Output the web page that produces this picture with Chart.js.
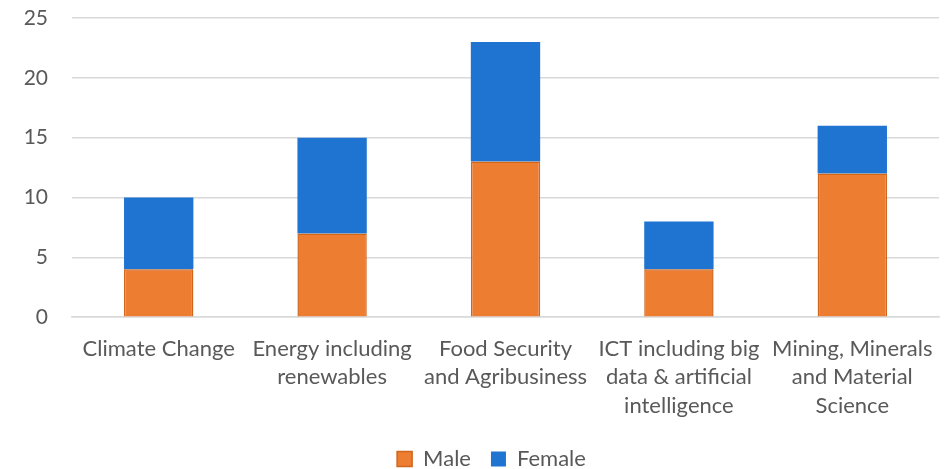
<!DOCTYPE html>
<html>
<head>
<meta charset="utf-8">
<script src="https://cdn.jsdelivr.net/npm/chart.js@4"></script>
<style>
  html, body { margin: 0; padding: 0; background: #fff; }
  #wrap { width: 950px; height: 469px; }
</style>
</head>
<body>
<div id="wrap"><canvas id="myChart"></canvas></div>
<script>
const categories = [
    ['Climate Change'],
    ['Energy including', 'renewables'],
    ['Food Security', 'and Agribusiness'],
    ['ICT including big', 'data & artificial', 'intelligence'],
    ['Mining, Minerals', 'and Material', 'Science']
];
const maleValues = [4, 7, 13, 4, 12];
const femaleValues = [6, 8, 10, 4, 4];
const yTicks = [0, 5, 10, 15, 20, 25];

const ctx = document.getElementById('myChart').getContext('2d');
Chart.defaults.font.family = 'Lato, "Open Sans", sans-serif';
Chart.defaults.color = '#595959';

// nudge the legend a bit to the right, like the original
const legendShift = {
    id: 'legendShift',
    afterLayout(chart) {
        chart.legend.left += 22;
        chart.legend.right += 22;
    }
};

const myChart = new Chart(ctx, {
    type: 'bar',
    data: {
        labels: categories,
        datasets: [{
            label: 'Male',
            data: maleValues,
            backgroundColor: '#ED7D31',
            borderColor: '#D0651C',
            borderWidth: 1.5
        }, {
            label: 'Female',
            data: femaleValues,
            backgroundColor: '#1F74D1',
            borderColor: '#1F74D1',
            borderWidth: 0
        }]
    },
    options: {
        responsive: true,
        maintainAspectRatio: false,
        animation: false,
        categoryPercentage: 1,
        barPercentage: 0.4,
        layout: { padding: { top: 0, right: 11, left: 0, bottom: -11 } },
        plugins: {
            tooltip: { enabled: false },
            legend: {
                position: 'bottom',
                labels: {
                    font: { size: 22 },
                    boxWidth: 15,
                    boxHeight: 15,
                    padding: 20
                }
            }
        },
        scales: {
            x: {
                stacked: true,
                grid: { display: false },
                border: { display: true, color: '#D9D9D9', width: 1.5 },
                ticks: { font: { size: 22, lineHeight: 1.3 }, maxRotation: 0, autoSkip: false, padding: 9 },
                afterFit: (scale) => { scale.height -= 1; }
            },
            y: {
                stacked: true,
                min: 0,
                max: 25,
                afterBuildTicks: (scale) => { scale.ticks = yTicks.map(v => ({ value: v })); },
                afterFit: (scale) => {
                    scale.width = 72;
                    scale.paddingTop = 18;
                    scale.paddingBottom = 0;
                },
                grid: { color: '#D9D9D9', lineWidth: 1.5, drawTicks: false },
                border: { display: false },
                ticks: { font: { size: 21 }, padding: 24 }
            }
        }
    },
    plugins: [legendShift]
});
</script>
</body>
</html>
